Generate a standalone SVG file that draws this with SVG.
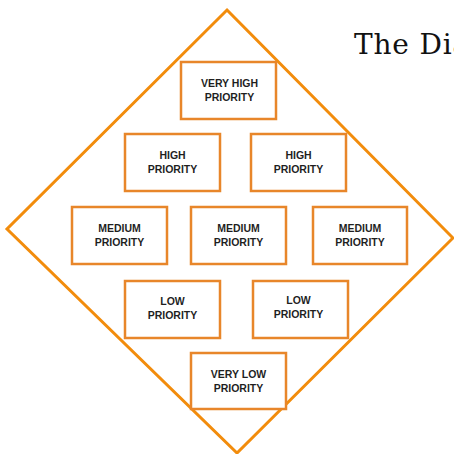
<svg xmlns="http://www.w3.org/2000/svg" width="454" height="454" viewBox="0 0 454 454">
  <style>
    .box { fill: #ffffff; stroke: #E8862A; stroke-width: 2.5; }
    .lbl { font-family: "Liberation Sans", Arial, sans-serif; font-weight: bold; font-size: 10.5px; fill: #1f1f1f; text-anchor: middle; }
    .title { font-family: "DejaVu Serif", serif; font-size: 28px; letter-spacing: 0.8px; fill: #111111; }
  </style>
  <rect width="454" height="454" fill="#ffffff"/>

  <!-- outer diamond -->
  <g id="diamond">
    <polygon points="227,10 453,238 237,453 7,229" fill="none" stroke="#F28C0C" stroke-width="3"/>
  </g>

  <text class="title" x="354" y="54">The Dia</text>

  <g id="very-high">
    <rect class="box" x="181" y="62" width="95" height="57"/>
    <text class="lbl" x="229.5" y="87">VERY HIGH</text>
    <text class="lbl" x="229.5" y="101">PRIORITY</text>
  </g>

  <g id="high-left">
    <rect class="box" x="125" y="134" width="95" height="57"/>
    <text class="lbl" x="172.5" y="159">HIGH</text>
    <text class="lbl" x="172.5" y="173">PRIORITY</text>
  </g>
  <g id="high-right">
    <rect class="box" x="251" y="134" width="95" height="57"/>
    <text class="lbl" x="298.5" y="159">HIGH</text>
    <text class="lbl" x="298.5" y="173">PRIORITY</text>
  </g>

  <g id="medium-left">
    <rect class="box" x="72" y="207" width="95" height="57"/>
    <text class="lbl" x="119.5" y="232">MEDIUM</text>
    <text class="lbl" x="119.5" y="246">PRIORITY</text>
  </g>
  <g id="medium-center">
    <rect class="box" x="191" y="207" width="95" height="57"/>
    <text class="lbl" x="238.5" y="232">MEDIUM</text>
    <text class="lbl" x="238.5" y="246">PRIORITY</text>
  </g>
  <g id="medium-right">
    <rect class="box" x="313" y="207" width="94" height="57"/>
    <text class="lbl" x="360" y="232">MEDIUM</text>
    <text class="lbl" x="360" y="246">PRIORITY</text>
  </g>

  <g id="low-left">
    <rect class="box" x="125" y="281" width="95" height="57"/>
    <text class="lbl" x="172.5" y="305">LOW</text>
    <text class="lbl" x="172.5" y="319">PRIORITY</text>
  </g>
  <g id="low-right">
    <rect class="box" x="253" y="281" width="95" height="57"/>
    <text class="lbl" x="298.5" y="304">LOW</text>
    <text class="lbl" x="298.5" y="318">PRIORITY</text>
  </g>

  <g id="very-low">
    <rect class="box" x="191" y="353" width="95" height="56"/>
    <text class="lbl" x="238.5" y="378">VERY LOW</text>
    <text class="lbl" x="238.5" y="392">PRIORITY</text>
  </g>

  <g id="connectors"></g>
</svg>
